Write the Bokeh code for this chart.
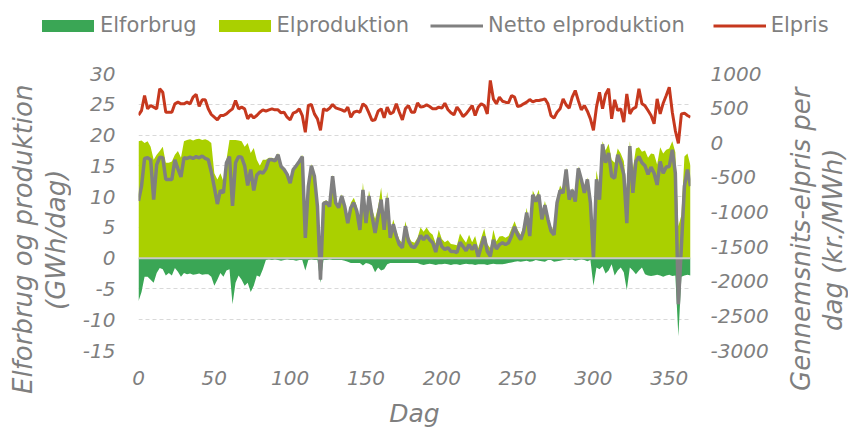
from bokeh.plotting import figure
from bokeh.layouts import column, row
from bokeh.models import (Range1d, LinearAxis, FixedTicker, Span, Legend, LegendItem,
                          Div, ColumnDataSource, PrintfTickFormatter)
from bokeh.embed import file_html
from bokeh.resources import INLINE

# ---- data (every second day) ----
days = list(range(0, 365, 2))

production = [
    19.0, 19.1, 18.7, 19.0, 18.1, 16.0, 16.8, 17.4, 18.1, 15.5,
    15.5, 15.7, 16.8, 17.4, 16.3, 19.0, 19.2, 19.3, 19.1, 19.3,
    19.4, 19.2, 19.3, 19.1, 18.7, 13.8, 12.8, 13.8, 12.5, 16.0,
    19.2, 19.2, 19.2, 19.1, 19.0, 18.1, 18.7, 17.1, 17.9, 16.0,
    15.0, 16.0, 16.0, 16.3,
    16.3, 16.1, 17.1, 15.2, 14.7, 13.9, 12.5, 14.7, 15.3, 16.0,
    16.8, 5.3, 12.0, 15.3, 13.6, 8.7, 0.5, 9.2, 9.4, 8.7,
    13.6, 9.3, 8.5, 10.4, 8.7, 6.3, 9.0, 9.8, 8.4, 5.4,
    12.3, 6.5, 11.0, 8.0, 6.4, 8.3, 11.5, 6.4, 10.8, 4.1,
    6.3, 4.4, 3.0, 2.5, 6.0, 3.6, 2.7, 2.5, 3.3,
    5.0, 4.3, 5.0, 4.2, 3.8, 2.4, 4.6, 3.1, 2.6, 2.9,
    2.3, 2.2, 2.1, 4.0, 3.2, 2.5, 3.8, 2.6, 3.6, 1.6,
    3.3, 4.8, 2.3, 1.6, 4.6, 2.7, 3.5, 3.6, 3.3, 3.6,
    4.8, 6.0, 4.6, 3.8, 5.3, 8.2, 4.5, 11.0, 9.9, 11.1,
    7.0, 9.3, 7.0, 5.2, 4.5, 9.8, 11.8,
    10.9, 14.7, 9.8, 11.4, 9.5, 14.9, 13.1, 10.9, 13.1, 9.3,
    4.5, 14.3, 11.3, 19.0, 17.5, 18.6, 16.0, 15.5, 17.8, 17.0,
    15.8, 11.0, 19.0, 14.5, 17.8, 18.0, 17.3, 17.5, 16.3, 17.0,
    16.9, 15.2, 18.0, 17.0, 17.6, 17.8, 19.0, 17.2, 5.2, 7.0,
    16.5, 17.0, 15.0,
]

consumption = [
    -7.0, -5.5, -3.0, -3.0, -3.5, -4.0, -2.4, -1.6, -1.8, -2.8,
    -2.4, -2.8, -1.6, -2.2, -3.0, -2.4, -2.6, -2.5, -2.7, -2.6,
    -2.5, -2.7, -2.6, -2.6, -3.0, -4.5, -3.5, -2.4, -3.0, -2.0,
    -1.8, -7.5, -4.0, -2.8, -3.5, -4.5, -4.0, -5.5, -4.5, -2.8,
    -3.0, -1.8, -0.3, -0.2,
    -0.3, -0.2, -0.3, -0.4, -0.3, -0.2, -0.3, -0.3, -0.4, -0.3,
    -0.3, -2.0, -0.3, -0.2, -0.3, -0.3, -4.0, -0.3, -0.3, -0.2,
    -0.3, -0.3, -0.3, -0.3, -0.4, -0.6, -0.8, -0.8, -0.8, -0.8,
    -1.2, -0.8, -0.9, -1.2, -2.3, -1.5, -2.0, -1.8, -1.0, -0.8,
    -0.8, -0.8, -0.8, -0.8, -0.8, -0.8, -0.8, -0.8, -0.8,
    -1.0, -1.1, -1.0, -0.9, -1.0, -1.1, -1.0, -1.0, -0.9, -1.0,
    -1.1, -1.0, -1.0, -1.1, -1.0, -0.9, -1.0, -1.0, -1.1, -1.0,
    -1.0, -1.0, -1.1, -1.0, -0.9, -1.0, -1.0, -1.0, -0.9, -0.8,
    -0.7, -0.6, -0.5, -0.6, -0.5, -0.4, -0.6, -0.5, -0.3, -0.4,
    -0.5, -0.6, -0.3, -0.3, -0.6, -0.5, -0.4,
    -0.3, -0.2, -0.3, -0.2, -0.4, -0.3, -0.2, -0.3, -0.5, -0.3,
    -4.5, -1.5, -1.8, -1.3, -2.5, -2.0, -1.0, -2.8, -2.0, -1.5,
    -2.3, -5.2, -1.5, -2.0, -2.6, -2.0, -1.5, -2.6, -2.8, -2.9,
    -2.8, -2.7, -2.8, -3.0, -2.8, -2.7, -2.9, -2.8, -12.7, -3.0,
    -2.8, -2.7, -2.8,
]

net_production = [
    9.3, 11.7, 16.2, 16.3, 16.0, 9.5, 15.2, 16.4, 16.3, 12.8,
    12.8, 12.8, 16.0, 14.5, 13.2, 16.3, 16.2, 16.4, 16.2, 16.5,
    16.3, 16.6, 16.2, 16.0, 14.0, 11.5, 8.8, 11.0, 10.6, 15.5,
    16.5, 8.5, 15.5, 16.5, 16.4, 15.0, 11.8, 14.4, 11.0, 13.5,
    14.0, 13.8, 14.5, 16.0,
    16.0, 15.8, 16.8, 14.9, 14.4, 13.6, 12.2, 14.4, 15.0, 15.7,
    16.5, 3.3, 11.7, 15.0, 13.3, 8.4, -3.5, 8.9, 9.1, 8.4,
    13.3, 9.0, 8.2, 10.1, 8.4, 5.7, 8.2, 9.0, 7.6, 4.6,
    11.1, 5.7, 10.1, 6.8, 4.1, 6.8, 9.5, 4.6, 9.8, 3.3,
    5.5, 3.6, 2.2, 1.7, 5.2, 2.8, 1.9, 1.7, 2.5,
    3.7, 3.0, 3.7, 3.0, 2.5, 1.0, 3.3, 1.9, 1.4, 1.7,
    1.1, 1.1, 0.9, 2.6, 1.9, 1.2, 2.2, 1.4, 2.2, 0.2,
    1.9, 3.5, 1.1, 0.3, 3.0, 1.5, 2.2, 2.5, 2.2, 2.5,
    3.6, 5.1, 3.8, 3.0, 4.4, 7.4, 3.6, 10.3, 9.2, 10.3,
    6.3, 8.6, 6.3, 4.4, 3.8, 9.0, 11.0,
    10.6, 14.4, 9.5, 11.1, 9.2, 14.6, 12.8, 10.6, 12.8, 9.0,
    0.0, 12.8, 9.5, 18.5, 15.5, 17.1, 13.3, 13.0, 16.8, 15.5,
    13.6, 5.7, 18.2, 10.6, 15.7, 16.5, 15.5, 15.0, 13.6, 14.8,
    13.8, 11.9, 15.7, 13.8, 14.8, 14.9, 17.6, 13.8, -7.5, 1.9,
    11.7, 14.4, 11.7,
]

price = [
    400, 465, 682, 490, 538, 514, 490, 779, 730, 441,
    441, 441, 562, 586, 562, 562, 586, 562, 658, 697,
    524, 620, 620, 490, 408, 369, 331, 393, 393, 417,
    456, 490, 610, 490, 514, 490, 345, 408, 359, 393,
    441, 475, 456, 475,
    490, 475, 475, 432, 441, 369, 331, 427, 446, 490,
    393, 152, 538, 552, 417, 345, 180, 490, 465, 499,
    552, 504, 490, 475, 451, 514, 369, 441, 456, 441,
    562, 524, 427, 321, 331, 456, 490, 359, 514, 417,
    441, 562, 441, 331, 490, 538, 441, 441, 576,
    514, 524, 547, 524, 490, 490, 514, 499, 571, 480,
    432, 403, 514, 456, 379, 417, 475, 538, 393, 514,
    562, 538, 417, 899, 634, 562, 658, 600, 586, 576,
    682, 658, 524, 533, 562, 586, 624, 591, 610, 610,
    620, 634, 562, 393, 355, 441, 490,
    634, 547, 499, 658, 754, 610, 475, 538, 456, 345,
    180, 514, 730, 490, 700, 780, 345, 620, 465, 490,
    297, 706, 417, 490, 514, 779, 562, 533, 465, 393,
    273, 634, 417, 571, 682, 803, 441, 176, -10, 417,
    427, 393, 369,
]

x_ticks = [0, 50, 100, 150, 200, 250, 300, 350]
left_ticks = [-15, -10, -5, 0, 5, 10, 15, 20, 25, 30]
right_ticks = [-3000, -2500, -2000, -1500, -1000, -500, 0, 500, 1000]

series_names = ["Elforbrug", "Elproduktion", "Netto elproduktion", "Elpris"]
left_title = ["Elforbrug og produktion", "(GWh/dag)"]
right_title = ["Gennemsnits-elpris per", "dag (kr./MWh)"]
x_title = "Dag"

# ---- styling ----
TXT = "#7F7F7F"
FONT = "DejaVu Sans"
C_CONS = "#3AA655"
C_PROD = "#AAD000"
C_NET = "#808080"
C_PRICE = "#C6381E"

src = ColumnDataSource(dict(day=days, prod=production, cons=consumption,
                            net=net_production, price=price,
                            zero=[0] * len(days)))

# ---- main chart ----
p = figure(width=705, height=389, output_backend="svg", toolbar_location=None,
           x_range=Range1d(0, 364), y_range=Range1d(-15, 30),
           min_border_left=63, min_border_right=90,
           min_border_top=28, min_border_bottom=84)
p.outline_line_color = None

p.extra_y_ranges = {"price": Range1d(-3000, 1000)}
p.add_layout(LinearAxis(y_range_name="price"), "right")

for ax in p.axis:
    ax.axis_line_color = None
    ax.major_tick_line_color = None
    ax.minor_tick_line_color = None
    ax.major_tick_out = 0
    ax.major_tick_in = 0
    ax.major_label_text_font = FONT
    ax.major_label_text_font_style = "italic"
    ax.major_label_text_font_size = "20px"
    ax.major_label_text_color = TXT
    ax.formatter = PrintfTickFormatter(format="%d")

p.xaxis.ticker = FixedTicker(ticks=x_ticks)
p.xaxis.major_label_standoff = 20
p.xaxis.axis_label = x_title
p.xaxis.axis_label_text_font = FONT
p.xaxis.axis_label_text_font_style = "italic"
p.xaxis.axis_label_text_font_size = "25px"
p.xaxis.axis_label_text_color = TXT
p.xaxis.axis_label_standoff = 11

p.yaxis[0].ticker = FixedTicker(ticks=left_ticks)
p.yaxis[0].major_label_standoff = 23
p.yaxis[1].ticker = FixedTicker(ticks=right_ticks)
p.yaxis[1].major_label_standoff = 20

p.xgrid.grid_line_color = None
p.ygrid.ticker = FixedTicker(ticks=left_ticks)
p.ygrid.grid_line_color = "#D9D9D9"
p.ygrid.grid_line_dash = "4 3"
p.ygrid.grid_line_width = 1

p.varea(x="day", y1="zero", y2="prod", source=src, fill_color=C_PROD)
p.varea(x="day", y1="cons", y2="zero", source=src, fill_color=C_CONS)
p.add_layout(Span(location=0, dimension="width", line_color="#C8C8C8", line_width=2,
                  level="glyph"))
p.line("day", "net", source=src, line_color=C_NET, line_width=3.5)
p.line("day", "price", source=src, y_range_name="price", line_color=C_PRICE, line_width=3)

# ---- legend strip (same series; the view range shows none of the marks) ----
leg = figure(width=851, height=45, output_backend="svg", toolbar_location=None,
             x_range=Range1d(1000, 1001), y_range=Range1d(0, 1),
             x_axis_location=None, y_axis_location=None, min_border=0)
leg.outline_line_color = None
leg.grid.visible = False
g_cons = leg.varea(x="day", y1="cons", y2="zero", source=src, fill_color=C_CONS)
g_prod = leg.varea(x="day", y1="zero", y2="prod", source=src, fill_color=C_PROD)
g_net = leg.line("day", "net", source=src, line_color=C_NET, line_width=3)
g_price = leg.line("day", "price", source=src, line_color=C_PRICE, line_width=3)

common = dict(orientation="horizontal", padding=0, margin=0, border_line_color=None,
              background_fill_alpha=0, label_text_font=FONT, label_text_font_size="21px",
              label_text_color=TXT, label_text_baseline="alphabetic", glyph_height=15,
              label_height=15)
leg.add_layout(Legend(items=[LegendItem(label=series_names[0], renderers=[g_cons]),
                             LegendItem(label=series_names[1], renderers=[g_prod])],
                      location=(35, 8), glyph_width=65, label_standoff=0, spacing=15,
                      **common))
leg.add_layout(Legend(items=[LegendItem(label=series_names[2], renderers=[g_net]),
                             LegendItem(label=series_names[3], renderers=[g_price])],
                      location=(430, 8), glyph_width=53, label_standoff=5, spacing=28,
                      **common))


# ---- axis titles (rotated HTML text) ----
def vtitle(lines, width, height, left, line_h):
    inner = ("<div style=\"margin:0 0 0 %dpx; padding:0; width:%dpx; height:%dpx; "
             "writing-mode:vertical-rl; transform:rotate(180deg); text-align:center; "
             "font-family:'DejaVu Sans'; font-style:italic; font-size:26px; "
             "line-height:%dpx; color:%s; white-space:nowrap;\">%s</div>"
             % (left, line_h * len(lines), height, line_h, TXT, "<br>".join(lines)))
    return Div(text=inner, width=width, height=height, margin=0)


lt = vtitle(left_title, 75, 389, 7, 33)
rt = vtitle(right_title, 71, 389, 5, 32)

layout = column(leg, row(lt, p, rt))
open("out.html", "w").write(file_html(layout, INLINE))
